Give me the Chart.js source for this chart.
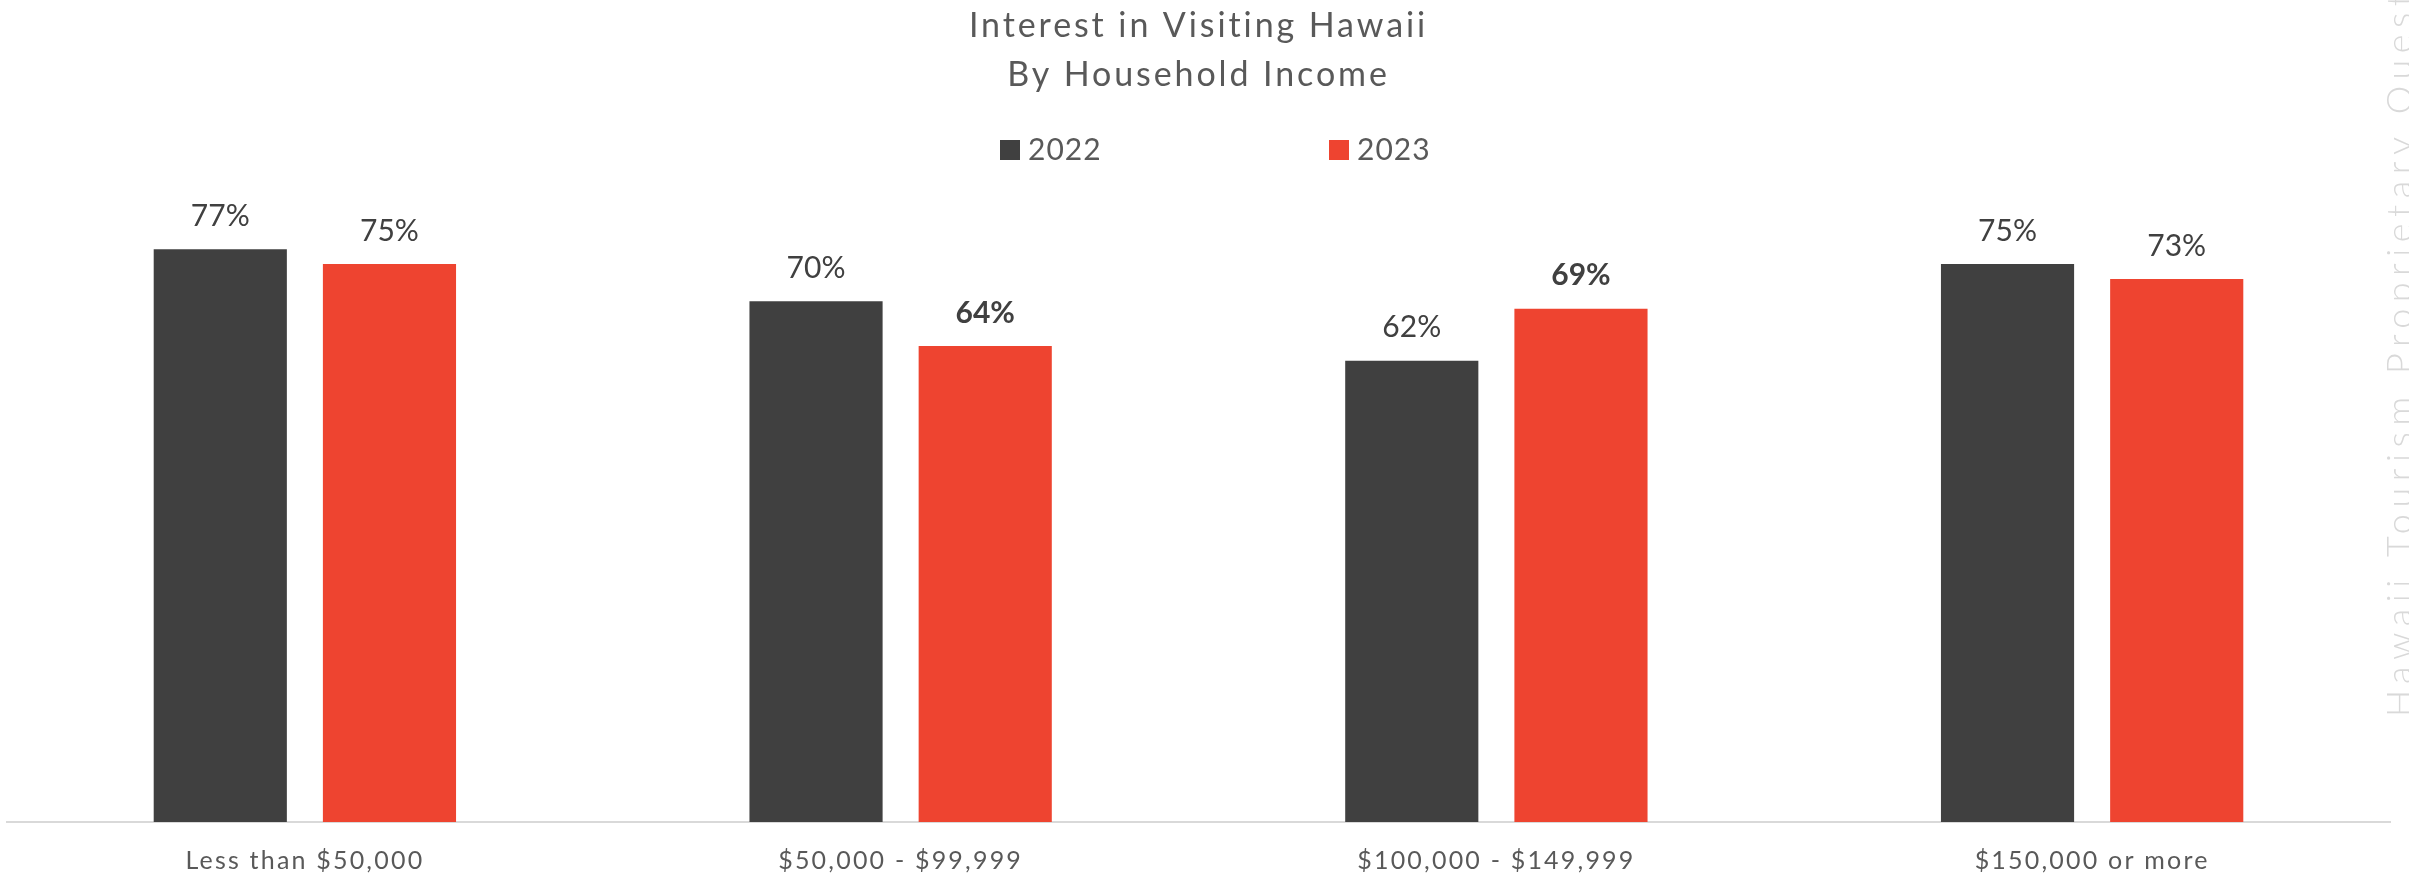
<!DOCTYPE html>
<html>
<head>
<meta charset="utf-8">
<title>Interest in Visiting Hawaii</title>
<script src="https://cdn.jsdelivr.net/npm/chart.js@4"></script>
<style>
  html, body { margin: 0; padding: 0; background: #ffffff; }
  #wrap { width: 2409px; height: 876px; position: relative; }
</style>
</head>
<body>
<div id="wrap"><canvas id="chart" width="2409" height="876"></canvas></div>
<script>
// Chart data
const CATEGORIES = ["Less than $50,000", "$50,000 - $99,999", "$100,000 - $149,999", "$150,000 or more"];
const SERIES_NAMES = ["2022", "2023"];
const VALUES_2022 = [77, 70, 62, 75];
const VALUES_2023 = [75, 64, 69, 73];
const BOLD_2022 = [false, false, false, false];
const BOLD_2023 = [false, true, true, false];
const TITLE_LINES = ["Interest in Visiting Hawaii", "By Household Income"];
const WATERMARK = "Hawaii Tourism Proprietary Questions";
const Y_MAX = 86.3;

const COLORS = {
  dark: "#404040",
  red: "#ee4430",
  title: "#595959",
  label: "#404040",
  axis: "#d9d9d9",
  watermark: "#d9d9d9",
};

const FONT = "Lato, 'Open Sans', sans-serif";

// the original type is tracked wider than Lato, so letter spacing is set per layer
const spacing = {
  id: "spacing",
  beforeDraw(chart) {
    chart.ctx.letterSpacing = "2.9px"; // title
  },
};

// value labels above each bar
const valueLabels = {
  id: "valueLabels",
  afterDatasetsDraw(chart) {
    const { ctx } = chart;
    ctx.save();
    ctx.letterSpacing = "0px";
    ctx.textAlign = "center";
    ctx.textBaseline = "middle";
    ctx.fillStyle = COLORS.label;
    chart.data.datasets.forEach((ds, di) => {
      const meta = chart.getDatasetMeta(di);
      meta.data.forEach((bar, i) => {
        const bold = ds.boldFlags[i];
        ctx.font = (bold ? "bold " : "") + "30px " + FONT;
        ctx.fillText(ds.data[i] + "%", bar.x, bar.y - 33);
      });
    });
    ctx.restore();
    ctx.letterSpacing = "2.2px"; // x tick labels (drawn after datasets, ticks.z = 1)
  },
};

// legend with the wide gap of the original
const wideLegend = {
  id: "wideLegend",
  afterDraw(chart) {
    const { ctx } = chart;
    const items = [
      { text: SERIES_NAMES[0], color: COLORS.dark, x: 1000 },
      { text: SERIES_NAMES[1], color: COLORS.red, x: 1329 },
    ];
    ctx.save();
    ctx.letterSpacing = "1px";
    ctx.font = "30px " + FONT;
    ctx.textBaseline = "middle";
    ctx.textAlign = "left";
    items.forEach((it) => {
      ctx.fillStyle = it.color;
      ctx.fillRect(it.x, 140, 20, 20);
      ctx.fillStyle = COLORS.title;
      ctx.fillText(it.text, it.x + 28, 150);
    });
    ctx.restore();
  },
};

// rotated watermark at the right edge
const watermark = {
  id: "watermark",
  afterDraw(chart) {
    const { ctx } = chart;
    ctx.save();
    ctx.letterSpacing = "6.5px";
    ctx.translate(2412, 717);
    ctx.rotate(-Math.PI / 2);
    ctx.font = "300 36px " + FONT;
    ctx.fillStyle = COLORS.watermark;
    ctx.textAlign = "left";
    ctx.textBaseline = "alphabetic";
    ctx.fillText(WATERMARK, 0, 0);
    ctx.restore();
    ctx.letterSpacing = "0px";
  },
};

new Chart(document.getElementById("chart"), {
  type: "bar",
  data: {
    labels: CATEGORIES,
    datasets: [
      {
        label: SERIES_NAMES[0],
        data: VALUES_2022,
        boldFlags: BOLD_2022,
        backgroundColor: COLORS.dark,
        categoryPercentage: 0.568,
        barPercentage: 0.787,
      },
      {
        label: SERIES_NAMES[1],
        data: VALUES_2023,
        boldFlags: BOLD_2023,
        backgroundColor: COLORS.red,
        categoryPercentage: 0.568,
        barPercentage: 0.787,
      },
    ],
  },
  options: {
    responsive: false,
    animation: false,
    layout: { padding: { left: 7, right: 19, top: 0, bottom: 0 } },
    plugins: {
      legend: { display: false },
      tooltip: { enabled: false },
      title: {
        display: true,
        text: TITLE_LINES,
        color: COLORS.title,
        font: { family: FONT, size: 34, weight: "normal", lineHeight: 1.456 },
        padding: { top: 1, bottom: 80 },
      },
    },
    scales: {
      x: {
        grid: { display: false, drawTicks: false },
        border: { display: true, color: COLORS.axis, width: 2 },
        ticks: {
          z: 1,
          color: COLORS.title,
          padding: 24,
          font: { family: FONT, size: 25 },
        },
        afterFit(scale) {
          scale.height = 54;
        },
      },
      y: {
        display: false,
        min: 0,
        max: Y_MAX,
      },
    },
  },
  plugins: [spacing, valueLabels, wideLegend, watermark],
});
</script>
</body>
</html>
